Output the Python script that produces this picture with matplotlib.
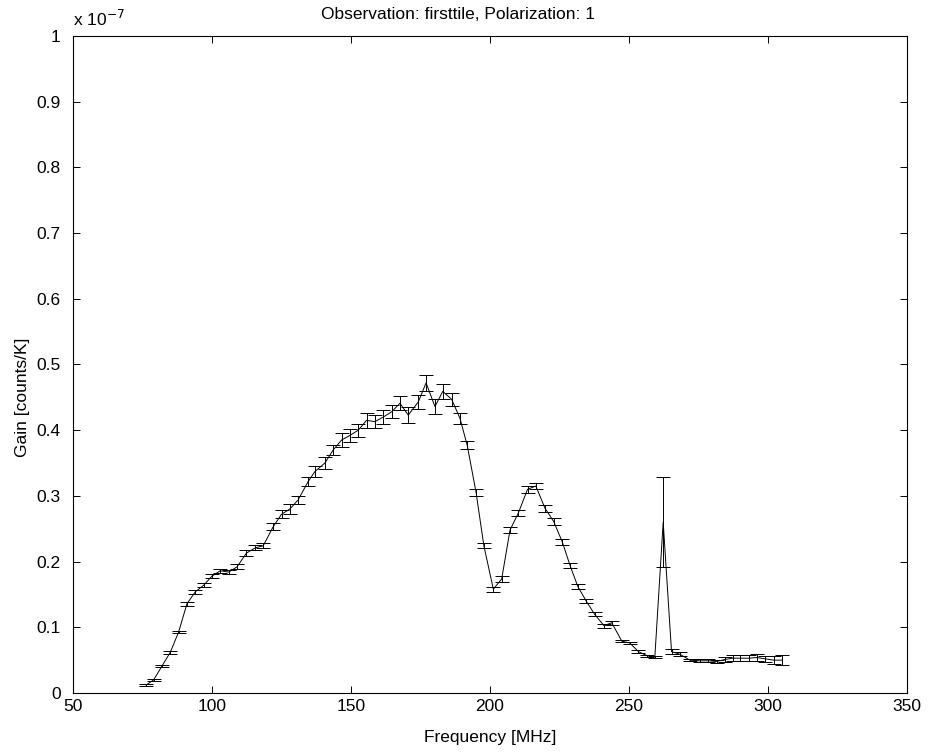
import numpy as np
import matplotlib
matplotlib.use("Agg")
import matplotlib.pyplot as plt
from matplotlib.ticker import FuncFormatter

plt.rcParams['font.family'] = ['Liberation Sans', 'DejaVu Sans']

# Frequencies [MHz]
freq = [76.3, 79.0, 82.0, 85.0, 88.0, 91.0, 94.0, 97.0, 100.0, 103.0,
        106.0, 109.0, 112.4, 115.6, 118.4, 122.0, 125.0, 128.0, 131.0, 134.6,
        137.0, 140.6, 143.6, 146.6, 149.6, 152.6, 155.6, 158.6, 161.6, 164.6,
        167.6, 170.6, 174.2, 177.0, 180.2, 183.0, 186.2, 189.2, 191.8, 195.0,
        197.8, 201.2, 204.2, 207.2, 210.2, 213.5, 216.5, 219.8, 222.9, 226.0,
        228.8, 231.6, 234.6, 237.6, 241.0, 243.8, 247.4, 250.3, 253.4, 256.4,
        259.3, 262.3, 265.3, 268.3, 271.9, 275.5, 278.5, 281.5, 284.5, 287.3,
        290.0, 293.0, 296.0, 299.0, 302.0, 305.0]

# Gain in units of 1e-7 counts/K
gain_e7 = [0.012, 0.020, 0.041, 0.062, 0.093, 0.136, 0.154, 0.164, 0.178, 0.186,
           0.184, 0.192, 0.213, 0.221, 0.224, 0.253, 0.272, 0.280, 0.294, 0.322,
           0.337, 0.350, 0.370, 0.385, 0.392, 0.400, 0.415, 0.413, 0.420, 0.428,
           0.441, 0.423, 0.443, 0.472, 0.436, 0.459, 0.447, 0.418, 0.377, 0.305,
           0.224, 0.158, 0.1735, 0.248, 0.274, 0.310, 0.315, 0.281, 0.261, 0.230,
           0.194, 0.162, 0.140, 0.120, 0.1025, 0.107, 0.079, 0.076, 0.063, 0.057,
           0.055, 0.260, 0.063, 0.059, 0.050, 0.049, 0.049, 0.048, 0.051, 0.053,
           0.053, 0.053, 0.054, 0.052, 0.050, 0.050]

# Error half-widths in units of 1e-7
err_e7 = [0.001, 0.0015, 0.0015, 0.002, 0.002, 0.003, 0.003, 0.003, 0.003, 0.003,
          0.003, 0.004, 0.004, 0.004, 0.004, 0.005, 0.006, 0.007, 0.006, 0.007,
          0.008, 0.009, 0.008, 0.010, 0.010, 0.010, 0.011, 0.010, 0.011, 0.010,
          0.011, 0.012, 0.011, 0.012, 0.011, 0.012, 0.010, 0.008, 0.006, 0.005,
          0.004, 0.004, 0.004, 0.004, 0.005, 0.005, 0.005, 0.005, 0.005, 0.004,
          0.004, 0.004, 0.003, 0.003, 0.003, 0.003, 0.002, 0.002, 0.002, 0.0015,
          0.0015, 0.068, 0.004, 0.003, 0.002, 0.002, 0.002, 0.002, 0.004, 0.005,
          0.005, 0.005, 0.005, 0.005, 0.006, 0.0075]

xticks = [50, 100, 150, 200, 250, 300, 350]
yticks = [0, 0.1, 0.2, 0.3, 0.4, 0.5, 0.6, 0.7, 0.8, 0.9, 1.0]

fig = plt.figure(figsize=(9.29, 7.54), dpi=100)
ax = fig.add_axes([0.0786, 0.0809, 0.8977, 0.8714])

ax.errorbar(freq, gain_e7, yerr=err_e7, color='black', linewidth=0.7,
            elinewidth=0.7, capsize=4.7, capthick=0.7)

ax.set_xlim(50, 350)
ax.set_ylim(0, 1)
ax.set_xticks(xticks)
ax.set_yticks(yticks)
ax.yaxis.set_major_formatter(FuncFormatter(lambda v, p: f"{v:g}"))
ax.tick_params(direction='in', top=True, right=True, labelsize=12.5, length=5,
               width=0.7)
ax.tick_params(axis='y', pad=9)
ax.tick_params(axis='x', pad=4)
for s in ax.spines.values():
    s.set_linewidth(0.8)

ax.set_xlabel('Frequency [MHz]', fontsize=12.5)
ax.xaxis.set_label_coords(0.5, -0.056)
ax.set_ylabel('Gain [counts/K]', fontsize=12.5)
ax.yaxis.set_label_coords(-0.052, 0.45)
ax.set_title('Observation: firsttile, Polarization: 1', fontsize=12.5,
             x=0.462, y=1.0, pad=12)
ax.text(0.0, 1.01, r'x 10$^{-7}$', transform=ax.transAxes, fontsize=12.5,
        ha='left', va='bottom')

fig.savefig('out.png', dpi=100)
